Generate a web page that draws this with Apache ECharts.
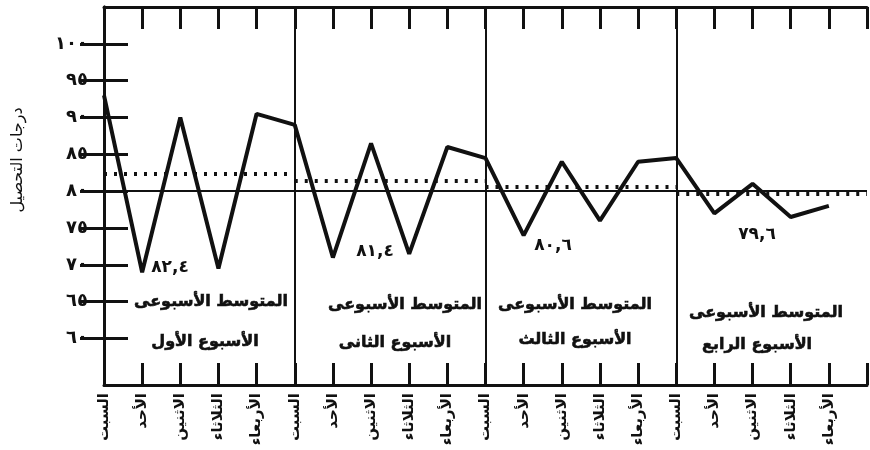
<!DOCTYPE html>
<html>
<head>
<meta charset="utf-8">
<script src="https://cdn.jsdelivr.net/npm/echarts@6/dist/echarts.min.js"></script>
<style>
  html, body { margin: 0; padding: 0; background: #fff; }
  #chart { width: 870px; height: 450px; }
</style>
</head>
<body>
<div id="chart"></div>
<script>
// days of each week and week names
const days = ['السبت', 'الأحد', 'الاثنين', 'الثلاثاء', 'الأربعاء'];
const weekNames = ['الأسبوع الأول', 'الأسبوع الثانى', 'الأسبوع الثالث', 'الأسبوع الرابع'];
// grades
const week1 = [93, 69, 90, 69.5, 90.5];
const week2 = [89, 71, 86.5, 71.5, 86];
const week3 = [84.5, 74, 84, 76, 84];
const week4 = [84.5, 77, 81, 76.5, 78];
const weekAvg = [82.4, 81.4, 80.6, 79.6];
const yTicks = [60, 65, 70, 75, 80, 85, 90, 95, 100];
const refLine = 80;
const yTitle = 'درجات التحصيل';

const FONT = "'DejaVu Sans', sans-serif";
const arDigits = '٠١٢٣٤٥٦٧٨٩';
function toAr(v) {
  return String(v).replace(/[0-9]/g, d => arDigits[+d]).replace('.', ',');
}

const allWeeks = [week1, week2, week3, week4];
const lineData = [];
allWeeks.forEach((w, wi) => {
  w.forEach((v, di) => lineData.push([wi * 5 + di, v]));
});

const markData = [{ yAxis: refLine }];
for (let i = 1; i < 4; i++) {
  markData.push({ xAxis: i * 5 });
}
weekAvg.forEach((a, i) => {
  markData.push([
    { coord: [i * 5, a], lineStyle: { type: [3, 7], width: 4, color: '#111' } },
    { coord: [i * 5 + 5, a] }
  ]);
});

const myChart = echarts.init(document.getElementById('chart'));

// text blocks in each week panel
const avgPos = [[170, 268], [375, 252], [553, 246], [757, 235]];
const titlePos = [[211, 302], [405, 305], [575, 305], [766, 313]];
const namePos = [[205, 342], [395, 343], [575, 340], [757, 345]];
const graphics = [{
  type: 'text', x: 18, y: 160, rotation: Math.PI / 2, silent: true,
  style: { text: yTitle, fontSize: 16, fontFamily: FONT, fill: '#111',
    align: 'center', verticalAlign: 'middle' }
}];
for (let i = 0; i < 4; i++) {
  graphics.push({
    type: 'text', x: avgPos[i][0], y: avgPos[i][1], silent: true,
    style: { text: toAr(weekAvg[i]), fontSize: 17, fontWeight: 'bold', fontFamily: FONT,
      fill: '#111', align: 'center', verticalAlign: 'middle' }
  });
  graphics.push({
    type: 'text', x: titlePos[i][0], y: titlePos[i][1], silent: true,
    style: { text: 'المتوسط الأسبوعى', fontSize: 16, fontWeight: 'bold', fontFamily: FONT,
      fill: '#111', stroke: '#111', lineWidth: 0.6, align: 'center', verticalAlign: 'middle' }
  });
  graphics.push({
    type: 'text', x: namePos[i][0], y: namePos[i][1], silent: true,
    style: { text: weekNames[i], fontSize: 16, fontWeight: 'bold', fontFamily: FONT,
      fill: '#111', stroke: '#111', lineWidth: 0.6, align: 'center', verticalAlign: 'middle' }
  });
}

const axisLine = { show: true, lineStyle: { color: '#111', width: 3 } };
const xTick = { show: true, inside: true, length: 22, lineStyle: { color: '#111', width: 3 } };
const yTick = { show: true, inside: true, length: 24, customValues: yTicks, lineStyle: { color: '#111', width: 3 } };

const option = {
  backgroundColor: '#fff',
  animation: false,
  grid: { left: 104, right: 3, top: 7, bottom: 65, containLabel: false, outerBoundsMode: 'none' },
  graphic: graphics,
  xAxis: [
    {
      type: 'value', min: 0, max: 20, interval: 1, position: 'bottom',
      axisLine: axisLine, axisTick: xTick, splitLine: { show: false },
      axisLabel: {
        rotate: 90, margin: 8, fontSize: 15, fontWeight: 'bold', fontFamily: FONT, color: '#111',
        formatter: v => (v < 20 ? days[v % 5] : '')
      }
    },
    {
      type: 'value', min: 0, max: 20, interval: 1, position: 'top',
      axisLine: axisLine, axisTick: xTick, splitLine: { show: false },
      axisLabel: { show: false }
    }
  ],
  yAxis: [
    {
      type: 'value', min: 53.7, max: 105, position: 'left',
      axisLine: axisLine, axisTick: yTick, splitLine: { show: false },
      axisLabel: {
        customValues: yTicks, margin: 16, fontSize: 18, fontWeight: 'bold', fontFamily: FONT, color: '#111',
        formatter: v => toAr(v)
      }
    },
    {
      type: 'value', min: 53.7, max: 105, position: 'right',
      axisLine: axisLine, axisTick: yTick, splitLine: { show: false },
      axisLabel: { show: false }
    }
  ],
  series: [
    {
      type: 'line',
      data: lineData,
      symbol: 'none',
      lineStyle: { color: '#111', width: 4 },
      markLine: {
        silent: true,
        symbol: 'none',
        label: { show: false },
        lineStyle: { type: 'solid', color: '#111', width: 2 },
        data: markData
      }
    }
  ]
};

myChart.setOption(option);
</script>
</body>
</html>
